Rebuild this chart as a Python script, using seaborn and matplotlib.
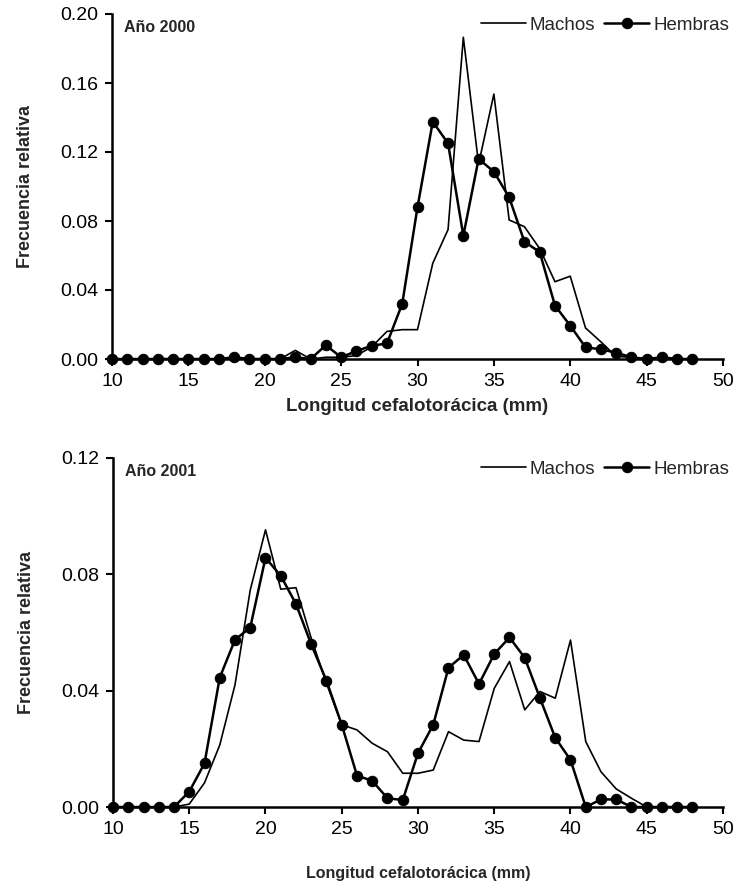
import numpy as np
import pandas as pd
import matplotlib
matplotlib.use("Agg")
import matplotlib.pyplot as plt
import seaborn as sns

# Longitud cefalotorácica (mm)
longitud = list(range(10, 49))

# Año 2000
machos_2000 = [0, 0, 0, 0, 0, 0, 0, 0, 0, 0, 0, 0, 0.005, 0.000, 0.001, 0.001,
               0.002, 0.007, 0.016, 0.017, 0.017, 0.0555, 0.075, 0.1865, 0.113, 0.1536,
               0.0806, 0.0767, 0.064, 0.0448, 0.048, 0.018, 0.010, 0.0015, 0.001,
               0, 0, 0, 0]
hembras_2000 = [0, 0, 0, 0, 0, 0, 0, 0, 0.001, 0, 0, 0, 0.001, 0, 0.008, 0.001,
                0.0046, 0.0077, 0.009, 0.032, 0.088, 0.1376, 0.125, 0.0715, 0.116, 0.1086,
                0.0937, 0.068, 0.062, 0.031, 0.0193, 0.0068, 0.0056, 0.0037, 0.001,
                0, 0.001, 0, 0]

# Año 2001
machos_2001 = [0, 0, 0, 0, 0, 0.001, 0.0083, 0.0213, 0.042, 0.0746, 0.0953, 0.0749,
               0.0754, 0.058, 0.0425, 0.0283, 0.0265, 0.0219, 0.019, 0.0116, 0.0116,
               0.0127, 0.0259, 0.023, 0.0225, 0.0408, 0.050, 0.0334, 0.0397, 0.0374,
               0.0574, 0.0225, 0.0121, 0.0062, 0.003, 0, 0, 0, 0]
hembras_2001 = [0, 0, 0, 0, 0, 0.0053, 0.015, 0.0445, 0.0575, 0.0617, 0.0857, 0.0795,
                0.0698, 0.0559, 0.0434, 0.0283, 0.0108, 0.009, 0.003, 0.0024, 0.0185,
                0.0283, 0.0479, 0.0523, 0.0423, 0.0526, 0.0583, 0.0513, 0.0374, 0.0238,
                0.0162, 0, 0.0026, 0.0026, 0, 0, 0, 0, 0]

sns.set_style("ticks")
plt.rcParams['font.family'] = ['Liberation Sans', 'DejaVu Sans']

fig = plt.figure(figsize=(7.36, 8.92), dpi=100)
ax1 = fig.add_axes([112 / 736, 1 - 359 / 892, 611 / 736, 345 / 892])
ax2 = fig.add_axes([113 / 736, 1 - 807 / 892, 610 / 736, 349 / 892])


def dibujar(ax, machos, hembras, ymax, yticks, titulo, xfont, xpad):
    df = pd.DataFrame({"x": longitud, "Machos": machos, "Hembras": hembras})
    sns.lineplot(data=df, x="x", y="Machos", ax=ax, color="black", lw=1.2,
                 label="Machos", clip_on=False)
    sns.lineplot(data=df, x="x", y="Hembras", ax=ax, color="black", lw=1.8,
                 marker="o", markersize=7.5, markeredgecolor="black",
                 label="Hembras", clip_on=False)
    ax.set_xlim(10, 50)
    ax.set_ylim(0, ymax)
    ax.set_xticks(range(10, 51, 5))
    ax.set_yticks(yticks)
    ax.yaxis.set_major_formatter(matplotlib.ticker.FormatStrFormatter("%.2f"))
    for s in ["top", "right"]:
        ax.spines[s].set_visible(False)
    for s in ["left", "bottom"]:
        ax.spines[s].set_linewidth(1.8)
        ax.spines[s].set_color("black")
    ax.tick_params(axis="both", length=5, width=1.5, color="black",
                   labelsize=14, labelcolor="black")
    ax.tick_params(axis="x", pad=5)
    ax.tick_params(axis="y", pad=5)
    ax.set_xlabel("Longitud cefalotorácica (mm)", fontsize=xfont,
                  fontweight="bold", labelpad=xpad)
    ax.set_ylabel("Frecuencia relativa", fontsize=13, fontweight="bold",
                  labelpad=19)
    ax.text(0.02, 0.962, titulo, transform=ax.transAxes, fontsize=11.5,
            fontweight="bold", va="center", ha="left")
    ax.legend(loc="center right", bbox_to_anchor=(1.01, 0.968), ncol=2,
              frameon=False, fontsize=13.5, handlelength=2.4,
              handletextpad=0.2, columnspacing=0.5, borderaxespad=0,
              borderpad=0)


dibujar(ax1, machos_2000, hembras_2000, 0.20, [0, 0.04, 0.08, 0.12, 0.16, 0.20],
        "Año 2000", 13.5, 6)
dibujar(ax2, machos_2001, hembras_2001, 0.12, [0, 0.04, 0.08, 0.12],
        "Año 2001", 11.5, 20)

fig.savefig("out.png", dpi=100)
